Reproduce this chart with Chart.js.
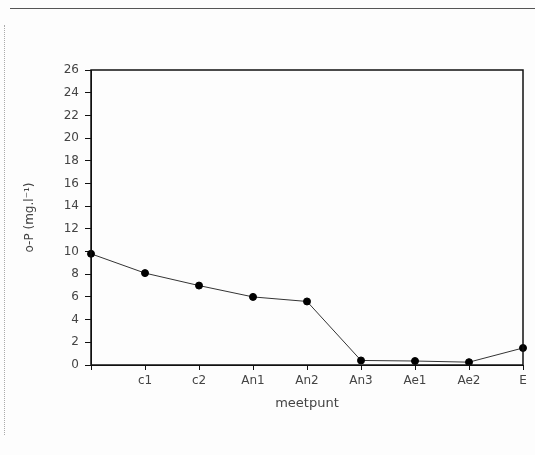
<!DOCTYPE html>
<html lang="nl">
<head>
  <meta charset="UTF-8">
  <title>o-P per meetpunt</title>
  <script src="https://cdnjs.cloudflare.com/ajax/libs/Chart.js/4.4.0/chart.umd.js"></script>
  <style>
    body {
      margin: 0;
      background: #fdfdfd;
    }
    .frame {
      position: relative;
      width: 535px;
      height: 455px;
    }
    .frame::before {
      content: '';
      position: absolute;
      left: 10px;
      right: 0;
      top: 8px;
      border-top: 1px solid #555;
    }
    .frame::after {
      content: '';
      position: absolute;
      left: 4px;
      top: 25px;
      bottom: 20px;
      border-left: 1px dotted #aaa;
    }
  </style>
</head>
<body>
  <div class="frame">
    <canvas id="chart" width="535" height="455"></canvas>
  </div>

  <script>
    const meetpunten = ['', 'c1', 'c2', 'An1', 'An2', 'An3', 'Ae1', 'Ae2', 'E'];
    const oP = [9.8, 8.1, 7.0, 6.0, 5.6, 0.4, 0.35, 0.25, 1.5];

    // box around the plot area
    const boxPlugin = {
      id: 'box',
      afterDraw(chart) {
        const { ctx, chartArea: a } = chart;
        ctx.save();
        ctx.strokeStyle = '#111';
        ctx.lineWidth = 1.5;
        ctx.strokeRect(a.left, a.top, a.right - a.left, a.bottom - a.top);
        ctx.restore();
      }
    };

    Chart.defaults.font.family = 'DejaVu Sans, sans-serif';
    Chart.defaults.font.size = 12;
    Chart.defaults.color = '#444';

    new Chart(document.getElementById('chart'), {
      type: 'line',
      data: {
        labels: meetpunten,
        datasets: [{
          data: oP,
          borderColor: '#333',
          borderWidth: 1,
          pointBackgroundColor: '#000',
          pointBorderColor: '#000',
          pointRadius: 3.5,
          tension: 0
        }]
      },
      options: {
        responsive: false,
        animation: false,
        layout: { padding: { top: 70, right: 12, left: 0, bottom: 0 } },
        plugins: { legend: { display: false }, tooltip: { enabled: false } },
        scales: {
          x: {
            offset: false,
            grid: { drawOnChartArea: false, tickLength: 5, color: '#111' },
            border: { color: '#111' },
            ticks: { padding: 4, maxRotation: 0, autoSkip: false },
            title: { display: true, text: 'meetpunt', font: { size: 13 }, padding: { top: 0, bottom: 44 } },
            afterFit(s) { s.height = 90; }
          },
          y: {
            min: 0,
            max: 26,
            grid: { drawOnChartArea: false, tickLength: 6, color: '#111' },
            border: { color: '#111' },
            ticks: { stepSize: 2, padding: 6 },
            title: { display: true, text: 'o-P (mg.l⁻¹)', padding: { top: 23, bottom: 0 } },
            afterFit(s) { s.width = 91; }
          }
        }
      },
      plugins: [boxPlugin]
    });
  </script>
</body>
</html>
